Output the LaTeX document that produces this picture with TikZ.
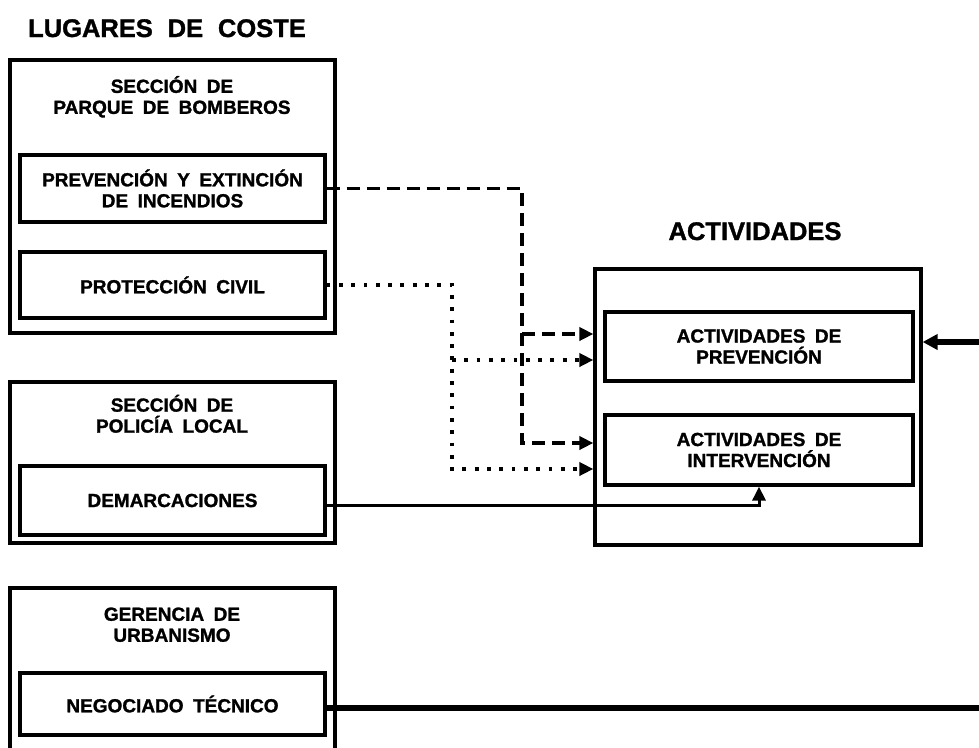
\documentclass[tikz,border=0pt]{standalone}
\usepackage{fontspec}
\setmainfont{Liberation Sans}[WordSpace=2.1, BoldFeatures={FakeBold=1.3}]
\newfontfamily\boxfont{Liberation Sans}[WordSpace=1.8, BoldFeatures={FakeBold=1.3}]
\usetikzlibrary{arrows.meta}
\begin{document}
\begin{tikzpicture}[x=1pt,y=-1pt,
  obox/.style={draw, line width=3.2pt, inner sep=0pt, minimum width=325pt},
  ibox/.style={draw, line width=3.2pt, inner sep=0pt, align=center,
    font=\boxfont\bfseries\fontsize{19}{21}\selectfont},
  sub/.style={align=center, inner sep=0pt, font=\boxfont\bfseries\fontsize{19}{21}\selectfont},
  title/.style={anchor=base, inner sep=0pt, font=\bfseries\fontsize{25.5}{28}\selectfont},
  tip/.style={-{Triangle[length=14pt,width=13pt]}},
  dashl/.style={line width=3.5pt, dash pattern=on 13pt off 7pt, tip},
  dotl/.style={line width=3.8pt, dash pattern=on 3.8pt off 8.5pt, tip},
  solidl/.style={line width=3pt, tip},
  thickl/.style={line width=6pt}]
\clip (0,0) rectangle (979,747);
\fill[white] (0,0) rectangle (979,747);
% titles
\node[title] (lugares) at (167,37) {LUGARES DE COSTE};
\node[title] (activ) at (755,240) {ACTIVIDADES};
% section 1
\node[obox, minimum height=273pt] (bomb) at (172.5,196.5) {};
\node[sub] (bombt) at (172,96.8) {SECCIÓN DE\\PARQUE DE BOMBEROS};
\node[ibox, minimum width=305pt, minimum height=67pt] (prev) at (172.5,188.5) {PREVENCIÓN Y EXTINCIÓN\\DE INCENDIOS};
\node[ibox, minimum width=305pt, minimum height=66pt] (prot) at (172.5,285) {PROTECCIÓN CIVIL};
% section 2
\node[obox, minimum height=161pt] (pol) at (172.5,462.5) {};
\node[sub] (polt) at (172,413.8) {SECCIÓN DE\\POLICÍA LOCAL};
\node[ibox, minimum width=305pt, minimum height=69pt] (dem) at (172.5,500.5) {DEMARCACIONES};
% section 3
\node[obox, minimum height=192pt] (ger) at (172.5,684) {};
\node[sub] (gert) at (172,624.7) {GERENCIA DE\\URBANISMO};
\node[ibox, minimum width=305pt, minimum height=62pt] (neg) at (172.5,704) {NEGOCIADO TÉCNICO};
% activities
\node[draw, line width=3.2pt, inner sep=0pt, minimum width=326pt, minimum height=276pt] (act) at (758,407) {};
\node[ibox, minimum width=308pt, minimum height=69pt] (aprev) at (759,346.5) {ACTIVIDADES DE\\PREVENCIÓN};
\node[ibox, minimum width=308pt, minimum height=70pt] (aint) at (759,450) {ACTIVIDADES DE\\INTERVENCIÓN};
% junction coordinates
\coordinate (dx1) at (522,334);
\coordinate (dx2) at (522,443);
\coordinate (px1) at (452,360);
\coordinate (px2) at (452,469);
\coordinate (dmy) at (759,505);
\coordinate (nr) at (979,708);
\coordinate (rr) at (979,342);
% connectors
\draw[dashl] (prev.east) -| (dx2) -- (dx2 -| act.west);
\draw[dashl] (dx1) -- (dx1 -| act.west);
\draw[dotl] (prot.east) -| (px2) -- (px2 -| act.west);
\draw[dotl] (px1) -- (px1 -| act.west);
\draw[solidl] (dem.east |- dmy) -| (aint.south);
\draw[thickl] (neg.east |- nr) -- (nr);
\draw[thickl, -{Triangle[length=15pt,width=15pt]}] (rr) -- (act.east |- rr);
\end{tikzpicture}
\end{document}
